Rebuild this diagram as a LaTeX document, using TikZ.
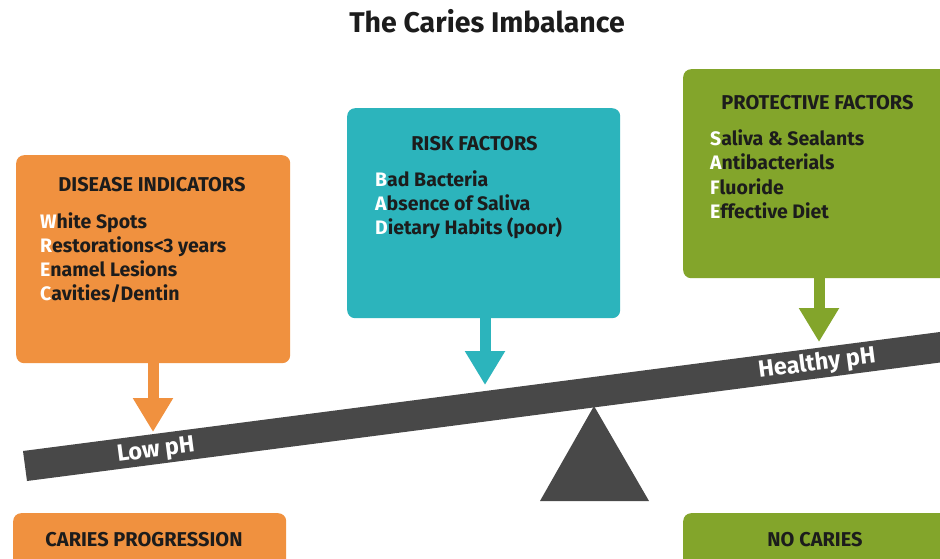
\documentclass[tikz,border=0pt]{standalone}
\usepackage{fontspec}
\setmainfont{Fira Sans}
\usetikzlibrary{arrows.meta}
\definecolor{cOrange}{HTML}{F0913F}
\definecolor{cTeal}{HTML}{2CB4BC}
\definecolor{cGreen}{HTML}{83A52B}
\definecolor{cBeam}{HTML}{484848}
\definecolor{cTxt}{HTML}{1C1C1C}
\begin{document}
\begin{tikzpicture}[x=1pt,y=-1pt,
  box/.style={rounded corners=8pt, inner sep=0pt, draw=none, anchor=north west},
  arr/.style={line width=11pt, -{Triangle[width=38pt,length=34pt]}},
  head/.style={font=\bfseries\fontsize{20}{22}\selectfont, text=cTxt, anchor=base, inner sep=0pt},
  item/.style={font=\bfseries\fontsize{19.5}{22}\selectfont, text=cTxt, anchor=base west, inner sep=0pt},
  beamtxt/.style={font=\bfseries\fontsize{23.5}{26}\selectfont, text=white, inner sep=0pt, rotate=7.39},
  fl/.style={text=white}]
\clip (0,0) rectangle (940,559);
\fill[white] (0,0) rectangle (940,559);

% title
\node[font=\bfseries\fontsize{28.5}{32}\selectfont, text=cTxt, anchor=base, inner sep=0pt] (title) at (487,33) {The Caries Imbalance};

% boxes
\node[box, fill=cOrange, minimum width=274pt, minimum height=208pt] (dis) at (16,155) {};
\node[box, fill=cTeal, minimum width=273pt, minimum height=210pt] (risk) at (347,108) {};
\node[box, fill=cGreen, minimum width=272pt, minimum height=209pt] (prot) at (683,69) {};
\node[box, fill=cOrange, minimum width=273pt, minimum height=70pt] (prog) at (13,513) {};
\node[box, fill=cGreen, minimum width=272pt, minimum height=70pt] (noc) at (683,513) {};

% box texts
\node[head] (disT) at (152,192) {DISEASE INDICATORS};
\node[item] (d1) at (40,228) {{\color{white}W}hite Spots};
\node[item] (d2) at (40,252) {{\color{white}R}estorations<3 years};
\node[item] (d3) at (40,276) {{\color{white}E}namel Lesions};
\node[item] (d4) at (40,300) {{\color{white}C}avities/Dentin};

\node[head] (riskT) at (474.5,150) {RISK FACTORS};
\node[item] (r1) at (375,186) {{\color{white}B}ad Bacteria};
\node[item] (r2) at (375,210) {{\color{white}A}bsence of Saliva};
\node[item] (r3) at (375,234) {{\color{white}D}ietary Habits (poor)};

\node[head] (protT) at (817.5,110) {PROTECTIVE FACTORS};
\node[item] (p1) at (710,146) {{\color{white}S}aliva \& Sealants};
\node[item] (p2) at (710,170) {{\color{white}A}ntibacterials};
\node[item] (p3) at (710,194) {{\color{white}F}luoride};
\node[item] (p4) at (710,218) {{\color{white}E}ffective Diet};

\node[head] (progT) at (144,546) {CARIES PROGRESSION};
\node[head] (nocT) at (815,546) {NO CARIES};

% beam and fulcrum
\fill[cBeam] (23,451) -- (960,329.4) -- (964,359.4) -- (27,481) -- cycle;
\fill[cBeam] (594,406) -- (649,501) -- (540,501) -- cycle;
\node[beamtxt] (low) at (156,451) {Low pH};
\node[beamtxt] (healthy) at (817,364) {Healthy pH};

% arrows
\coordinate (tipO) at (153,432);
\coordinate (tipT) at (485,385);
\coordinate (tipG) at (819,342);
\draw[arr, draw=cOrange] (dis.south -| tipO) -- (tipO);
\draw[arr, draw=cTeal] (risk.south -| tipT) -- (tipT);
\draw[arr, draw=cGreen] (prot.south -| tipG) -- (tipG);
\end{tikzpicture}
\end{document}
